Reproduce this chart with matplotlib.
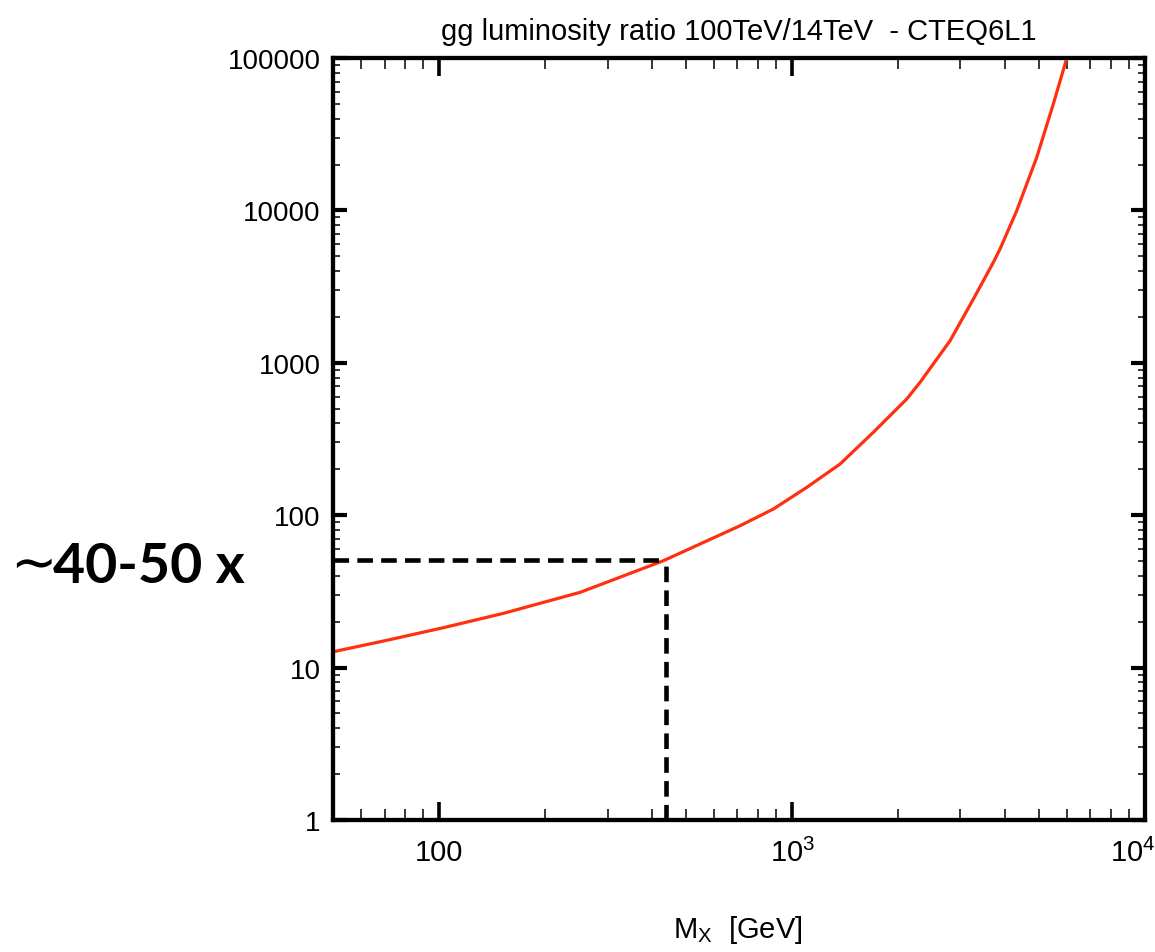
import matplotlib
matplotlib.use("Agg")
import matplotlib.pyplot as plt
import matplotlib.transforms as mtransforms
from matplotlib import font_manager
from matplotlib.ticker import FixedLocator, FixedFormatter, LogLocator, NullFormatter

# ---- data ----
mass_gev = [50, 71, 103, 152, 251, 432, 712, 885, 1101, 1368, 1699, 2113, 2305,
            2803, 3264, 3718, 3883, 4330, 4934, 5498, 5974]
lumi_ratio = [12.7, 15.1, 18.3, 22.7, 31.2, 50.3, 85.3, 109.8, 152.4, 216.8, 350,
              579, 745, 1396, 2622, 4565, 5581, 9954, 22300, 49900, 96000]
ref_mass = 440
ref_ratio = 51

x_ticks = [100, 1000, 10000]
x_ticklabels = ["100", r"$\mathrm{10^3}$", r"$\mathrm{10^4}$"]
y_ticks = [1, 10, 100, 1000, 10000, 100000]
y_ticklabels = ["1", "10", "100", "1000", "10000", "100000"]

title = "gg luminosity ratio 100TeV/14TeV  - CTEQ6L1"
xlabel = r"$\mathrm{M_X}$  [GeV]"
note = "40-50 x"

# ---- fonts ----
names = {f.name for f in font_manager.fontManager.ttflist}
base = "Liberation Sans Narrow" if "Liberation Sans Narrow" in names else "Liberation Sans"
plt.rcParams["font.family"] = [base, "DejaVu Sans"]
plt.rcParams["mathtext.fontset"] = "custom"
plt.rcParams["mathtext.rm"] = base
plt.rcParams["mathtext.it"] = base
plt.rcParams["mathtext.bf"] = base

W, H = 1155, 953
fig = plt.figure(figsize=(W / 100, H / 100), dpi=100)
L, R, B, T = 333, 1145, 821, 59
ax = fig.add_axes([L / W, 1 - B / H, (R - L) / W, (B - T) / H])

ax.set_xscale("log")
ax.set_yscale("log")
ax.set_xlim(50, 10000)
ax.set_ylim(1, 100000)

ax.plot(mass_gev, lumi_ratio, color="#ff3010", lw=2.3, solid_joinstyle="round")

dash = (0, (3.4, 1.8))
ax.plot([50, ref_mass], [ref_ratio, ref_ratio], color="black", lw=3.3,
        linestyle=dash, clip_on=False, zorder=5)
ax.plot([ref_mass, ref_mass], [1, ref_ratio], color="black", lw=3.3,
        linestyle=dash, clip_on=False, zorder=5)

for s in ax.spines.values():
    s.set_linewidth(3.1)

ax.xaxis.set_major_locator(FixedLocator(x_ticks))
ax.xaxis.set_major_formatter(FixedFormatter(x_ticklabels))
ax.xaxis.set_minor_locator(LogLocator(base=10, subs=range(2, 10), numticks=20))
ax.xaxis.set_minor_formatter(NullFormatter())
ax.yaxis.set_major_locator(FixedLocator(y_ticks))
ax.yaxis.set_major_formatter(FixedFormatter(y_ticklabels))
ax.yaxis.set_minor_locator(LogLocator(base=10, subs=range(2, 10), numticks=20))
ax.yaxis.set_minor_formatter(NullFormatter())

ax.tick_params(axis="both", which="both", direction="in", top=True, right=True)
ax.tick_params(axis="x", which="major", length=13, width=2.6, labelsize=21, pad=13)
ax.tick_params(axis="x", which="minor", length=8, width=1.1)
ax.tick_params(axis="y", which="major", length=10, width=3.0, labelsize=20, pad=9)
ax.tick_params(axis="y", which="minor", length=5, width=1.1)

fig.text(739 / W, 1 - 40 / H, title, ha="center", va="baseline", fontsize=21)
fig.text(738 / W, 1 - 938 / H, xlabel, ha="center", va="baseline", fontsize=21)

fig.text(10 / W, 1 - 566 / H, "\u223c", ha="left", va="center", fontsize=40,
         family=["DejaVu Sans"])
fig.text(53 / W, 1 - 567 / H, note, ha="left", va="center", fontsize=40,
         fontweight="bold", family=["Lato", "DejaVu Sans"])

# nudge the last x tick label left so it stays inside the figure
fig.canvas.draw()
last = ax.xaxis.get_major_ticks()[-1].label1
last.set_transform(last.get_transform() +
                   mtransforms.ScaledTranslation(-12 / 100, 0, fig.dpi_scale_trans))

fig.savefig("out.png", dpi=100)
